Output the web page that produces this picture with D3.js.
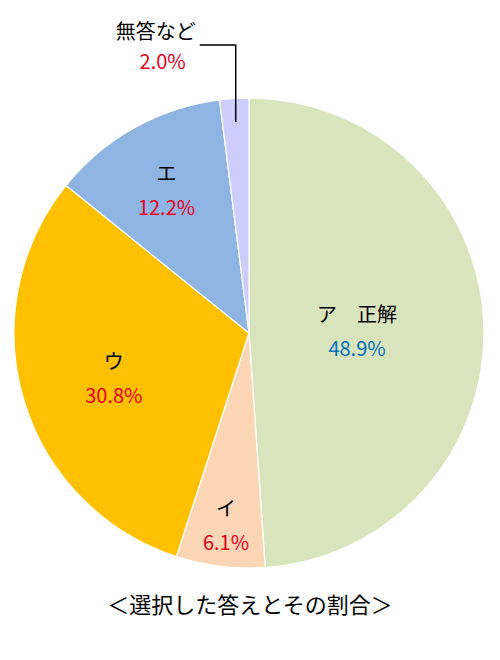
<!DOCTYPE html>
<html><head><meta charset="utf-8">
<script src="https://cdn.jsdelivr.net/npm/d3@7.9.0/dist/d3.min.js"></script>
<style>body{margin:0;background:#fff}</style></head>
<body><svg id="c" width="500" height="660"></svg>
<script>
const labels = ['ア　正解', 'イ', 'ウ', 'エ', '無答など'];
const values = [48.9, 6.1, 30.8, 12.2, 2.0];
const colors = ['#D8E4BC', '#FCD5B5', '#FFC000', '#8DB4E2', '#CCCCFF'];
const pctColors = ['#0070C0', '#E8001C', '#E8001C', '#E8001C', '#E8001C'];
const title = '＜選択した答えとその割合＞';

const svg = d3.select('#c');
const cx = 249, cy = 333, R = 235;
const g = svg.append('g').attr('transform', `translate(${cx},${cy})`);
const arcs = d3.pie().sort(null).value(d => d)(values);
const arc = d3.arc().innerRadius(0).outerRadius(R);

g.selectAll('path').data(arcs).join('path')
  .attr('d', arc).attr('fill', (d, i) => colors[i])
  .attr('stroke', '#fff').attr('stroke-width', 1.2);

// label radius per slice (fraction of R)
const rf = [0.46, 0.8, 0.6, 0.72];
const font = "'Noto Sans CJK JP', sans-serif";
arcs.slice(0, 4).forEach((d, i) => {
  const a = (d.startAngle + d.endAngle) / 2;
  let x = Math.sin(a) * R * rf[i], y = -Math.cos(a) * R * rf[i];
  if (i === 0) y -= 3;
  g.append('text').attr('x', x).attr('y', y - 4).attr('text-anchor', 'middle')
    .attr('font-family', font).attr('font-size', 20).text(labels[i]);
  g.append('text').attr('x', x).attr('y', y + 30).attr('text-anchor', 'middle')
    .attr('font-family', font).attr('font-size', 20).attr('fill', pctColors[i])
    .text(values[i].toFixed(1) + '%');
});

// small slice label with leader
const last = arcs[4];
const la = (last.startAngle + last.endAngle) / 2;
const lx = Math.sin(la) * R * 0.9, ly = -Math.cos(la) * R * 0.9;
g.append('path').attr('fill', 'none').attr('stroke', '#000').attr('stroke-width', 1.5)
  .attr('d', `M${lx - 36},${-288}H${lx}V${ly}`);
g.append('text').attr('x', lx - 40).attr('y', -294).attr('text-anchor', 'end')
  .attr('font-family', font).attr('font-size', 20).text(labels[4]);
g.append('text').attr('x', lx - 50).attr('y', -264).attr('text-anchor', 'end')
  .attr('font-family', font).attr('font-size', 20).attr('fill', pctColors[4])
  .text(values[4].toFixed(1) + '%');

svg.append('text').attr('x', 250).attr('y', 613).attr('text-anchor', 'middle')
  .attr('font-family', font).attr('font-size', 22).text(title);
</script></body></html>
